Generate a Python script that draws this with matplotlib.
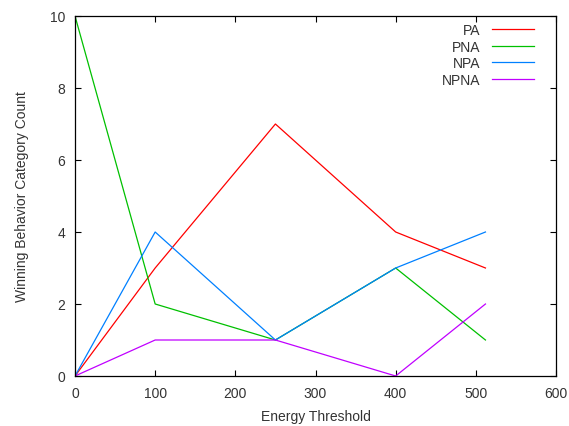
import matplotlib
matplotlib.use('Agg')
import matplotlib.pyplot as plt

plt.rcParams['font.family'] = ['Liberation Sans', 'DejaVu Sans']

threshold = [0, 100, 250, 400, 512]
pa = [0, 3, 7, 4, 3]
pna = [10, 2, 1, 3, 1]
npa = [0, 4, 1, 3, 4]
npna = [0, 1, 1, 0, 2]

fig = plt.figure(figsize=(5.69, 4.27), dpi=100)
ax = fig.add_axes([75/569, 1-377/427, (556-75)/569, (377-17)/427])

ax.plot(threshold, pa, color='#ff0000', lw=0.9, label='PA')
ax.plot(threshold, pna, color='#00c000', lw=0.9, label='PNA')
ax.plot(threshold, npa, color='#0080ff', lw=0.9, label='NPA')
ax.plot(threshold, npna, color='#c000ff', lw=0.9, label='NPNA')

ax.set_xlim(0, 600)
ax.set_ylim(0, 10)
ax.set_xticks(range(0, 601, 100))
ax.set_yticks(range(0, 11, 2))
ax.tick_params(direction='in', top=True, right=True, length=4, width=0.8,
               labelsize=10, labelcolor='#333333', pad=7)
for s in ax.spines.values():
    s.set_linewidth(0.9)

ax.set_xlabel('Energy Threshold', fontsize=10, color='#333333', labelpad=7)
ax.set_ylabel('Winning Behavior Category Count', fontsize=10, color='#333333', labelpad=15)

leg = ax.legend(loc='upper right', markerfirst=False, frameon=False, fontsize=10,
                handlelength=3.0, handletextpad=0.8, labelspacing=0.18,
                borderaxespad=0.0, bbox_to_anchor=(0.965, 0.995))
for t in leg.get_texts():
    t.set_color('#333333')

fig.savefig('out.png', dpi=100)
